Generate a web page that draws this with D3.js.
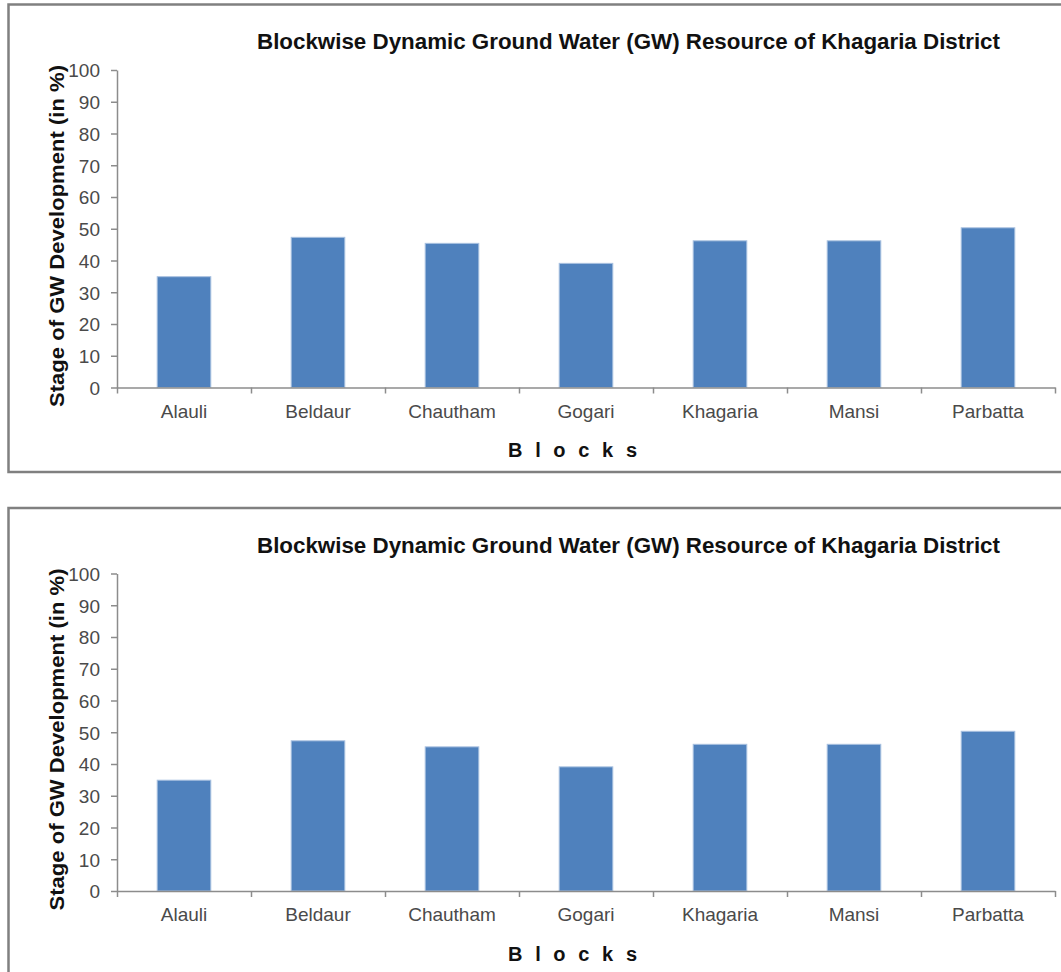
<!DOCTYPE html>
<html>
<head>
<meta charset="utf-8">
<script src="https://cdn.jsdelivr.net/npm/d3@7"></script>
<style>
  html, body { margin: 0; padding: 0; background: #ffffff; }
  svg { display: block; font-family: Arial, "Liberation Sans", sans-serif; }
</style>
</head>
<body>
<svg id="chart" width="1061" height="972"></svg>
<script>
// Blocks of Khagaria district and their stage of ground water development (%)
const blocks = ["Alauli", "Beldaur", "Chautham", "Gogari", "Khagaria", "Mansi", "Parbatta"];
const stageValues = [34.9, 47.3, 45.4, 39.1, 46.2, 46.2, 50.3];
const yTicks = [0, 10, 20, 30, 40, 50, 60, 70, 80, 90, 100];

const titleText = "Blockwise Dynamic Ground Water (GW) Resource of Khagaria District";
const yTitleText = "Stage of GW Development (in %)";
const xTitleText = "B l o c k s";

const svg = d3.select("#chart");

// Plot area geometry shared by both panels
const plotLeft = 117, plotRight = 1055;
const plotTop = 70, plotBottom = 387.5;

function drawPanel(offsetY, boxBottom) {
  const g = svg.append("g").attr("transform", `translate(0,${offsetY})`);

  // chart frame
  g.append("rect")
    .attr("x", 8.5).attr("y", 4.5)
    .attr("width", 1080).attr("height", boxBottom - 4.5)
    .attr("fill", "#ffffff")
    .attr("stroke", "#808080")
    .attr("stroke-width", 2.5);

  const x = d3.scaleBand()
    .domain(blocks)
    .range([plotLeft, plotRight])
    .paddingInner(0.6)
    .paddingOuter(0.3);

  const y = d3.scaleLinear()
    .domain([0, 100])
    .range([plotBottom, plotTop]);

  // bars
  g.append("g").selectAll("rect")
    .data(blocks.map((b, i) => ({ block: b, value: stageValues[i] })))
    .join("rect")
    .attr("x", d => x(d.block))
    .attr("y", d => y(d.value))
    .attr("width", x.bandwidth())
    .attr("height", d => y(0) - y(d.value))
    .attr("fill", "#4F81BD")
    .attr("stroke", "#A9C1E0")
    .attr("stroke-width", 1);

  // y axis
  const yAxis = g.append("g")
    .attr("transform", `translate(${plotLeft},0)`)
    .call(d3.axisLeft(y).tickValues(yTicks).tickSize(6).tickPadding(11).tickSizeOuter(0));
  yAxis.select(".domain").attr("stroke", "#8c8c8c").attr("stroke-width", 1.5);
  yAxis.selectAll(".tick line").attr("stroke", "#8c8c8c").attr("stroke-width", 1.5);
  yAxis.selectAll(".tick text")
    .attr("fill", "#4a4a4a")
    .style("font-size", "19px")
    .attr("dy", "0.36em");

  // x axis: boundary ticks between categories
  const edges = d3.range(blocks.length + 1);
  const xEdge = d3.scalePoint().domain(edges).range([plotLeft, plotRight]);
  const xAxisLine = g.append("g")
    .attr("transform", `translate(0,${plotBottom})`)
    .call(d3.axisBottom(xEdge).tickSize(6).tickSizeOuter(0).tickFormat(""));
  xAxisLine.select(".domain").attr("stroke", "#8c8c8c").attr("stroke-width", 1.5);
  xAxisLine.selectAll(".tick line").attr("stroke", "#8c8c8c").attr("stroke-width", 1.5);

  // x axis: category labels centred in each band
  const xLabels = g.append("g")
    .attr("transform", `translate(0,${plotBottom})`)
    .call(d3.axisBottom(x).tickSize(0).tickPadding(17));
  xLabels.select(".domain").remove();
  xLabels.selectAll(".tick text")
    .attr("fill", "#4a4a4a")
    .style("font-size", "19px");

  // chart title
  g.append("text")
    .attr("x", 257).attr("y", 49)
    .attr("textLength", 743)
    .attr("lengthAdjust", "spacingAndGlyphs")
    .style("font-size", "22px")
    .style("font-weight", "bold")
    .attr("fill", "#111111")
    .text(titleText);

  // y axis title
  g.append("text")
    .attr("transform", "translate(64,236) rotate(-90)")
    .attr("text-anchor", "middle")
    .attr("textLength", 342)
    .attr("lengthAdjust", "spacingAndGlyphs")
    .style("font-size", "21px")
    .style("font-weight", "bold")
    .attr("fill", "#111111")
    .text(yTitleText);

  // x axis title
  g.append("text")
    .attr("x", 508).attr("y", 457)
    .attr("textLength", 129)
    .attr("lengthAdjust", "spacing")
    .style("font-size", "20px")
    .style("font-weight", "bold")
    .attr("fill", "#111111")
    .text(xTitleText);
}

drawPanel(0, 472);
drawPanel(503.5, 1000);
</script>
</body>
</html>
